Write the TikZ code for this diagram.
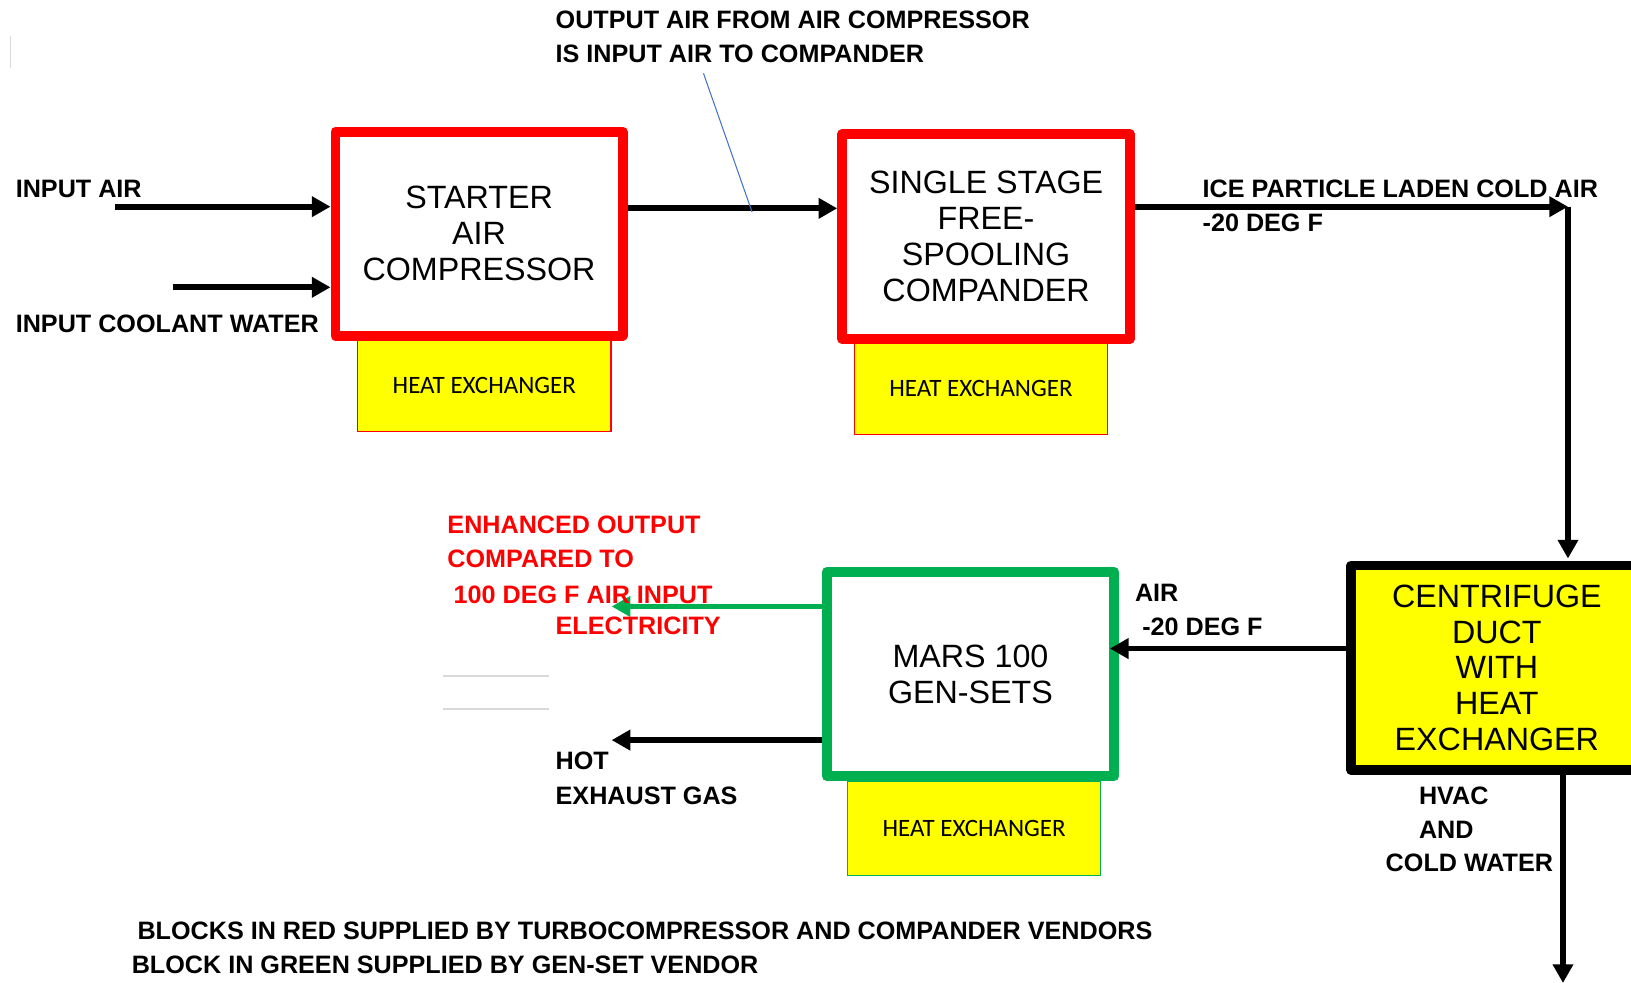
\documentclass[tikz,border=0pt]{standalone}
\usepackage{fontspec}
\setmainfont{Liberation Sans}
\newfontfamily\hxfont{Carlito}
\usetikzlibrary{arrows.meta}
\definecolor{bred}{HTML}{FF0000}
\definecolor{bgreen}{HTML}{00B050}
\definecolor{byellow}{HTML}{FFFF00}
\definecolor{bblue}{HTML}{4472C4}
\definecolor{lgray}{HTML}{D9D9D9}
\begin{document}
\begin{tikzpicture}[x=1pt,y=-1pt,
  arr/.style={line width=5.5pt,-{Triangle[length=18pt,width=19pt]}},
  bigbox/.style={draw,line width=9.5pt,line join=round,fill=white,inner sep=0pt,align=center,font=\fontsize{31}{34.5}\selectfont},
  hxbox/.style={draw,line width=1.2pt,fill=byellow,inner sep=0pt,font=\hxfont\fontsize{24}{28}\selectfont},
  lbl/.style={anchor=base west,inner sep=0pt,font=\bfseries\fontsize{24.2}{28}\selectfont},
  redlbl/.style={lbl,text=bred},
  gline/.style={draw=lgray,line width=2pt}
]
\useasboundingbox (0,0) rectangle (1568,945);
\clip (0,0) rectangle (1568,945);

% heat exchangers
\node[hxbox,draw=bred,minimum width=243.4pt,minimum height=88pt] (hx1) at (465.6,371) {HEAT EXCHANGER};
\node[hxbox,draw=bred,minimum width=243pt,minimum height=88.5pt] (hx2) at (943.1,373.7) {HEAT EXCHANGER};
\node[hxbox,draw=bgreen,minimum width=243pt,minimum height=91pt] (hx3) at (936.5,796.5) {HEAT EXCHANGER};

% main blocks
\node[bigbox,draw=bred,minimum width=276.1pt,minimum height=196.3pt] (sac) at (460.55,224.65) {STARTER\\AIR\\COMPRESSOR};
\node[bigbox,draw=bred,minimum width=276.7pt,minimum height=197pt] (comp) at (948,227.5) {SINGLE STAGE\\FREE-\\SPOOLING\\COMPANDER};
\node[bigbox,draw=bgreen,minimum width=276.5pt,minimum height=196.5pt] (mars) at (933,648) {MARS 100\\GEN-SETS};
\node[bigbox,draw=black,fill=byellow,minimum width=280pt,minimum height=196.7pt] (cen) at (1439,642) {CENTRIFUGE\\DUCT\\WITH\\HEAT\\EXCHANGER};

% coordinates
\coordinate (inair) at (110.6,198.7);
\coordinate (incool) at (166,276.2);
\coordinate (y1) at (0,200.3);
\coordinate (y2) at (0,198.7);
\coordinate (corner) at (1507.4,198.7);
\coordinate (y3) at (0,623.5);
\coordinate (elec) at (588,583);
\coordinate (exh) at (588,711.5);
\coordinate (hvacend) at (1502.6,945);
\coordinate (callA) at (676.3,70.5);
\coordinate (callB) at (723,203.8);

% connectors
\draw[arr] (inair) -- (inair -| sac.west);
\draw[arr] (incool) -- (incool -| sac.west);
\draw[arr] (sac.east |- y1) -- (comp.west |- y1);
\draw[arr] (comp.east |- y2) -- (corner);
\draw[arr] (corner) -- ([yshift=2pt]corner |- cen.north);
\draw[arr] (cen.west |- y3) -- ([xshift=-9pt]mars.east |- y3);
\draw[arr,draw=bgreen,fill=bgreen] (mars.west |- elec) -- (elec);
\draw[arr] (mars.west |- exh) -- (exh);
\draw[arr] (cen.south -| hvacend) -- (hvacend);
\draw[bblue,line width=1pt] (callA) -- (callB);

% light gray marks
\coordinate (g1a) at (426,650); \coordinate (g1b) at (528,650);
\coordinate (g2a) at (426,682); \coordinate (g2b) at (528,682);
\coordinate (g3a) at (10,35); \coordinate (g3b) at (10,65);
\draw[gline] (g1a) -- (g1b);
\draw[gline] (g2a) -- (g2b);
\draw[draw=lgray,line width=1pt] (g3a) -- (g3b);

% labels
\node[lbl] (t1) at (534,27) {OUTPUT AIR FROM AIR COMPRESSOR};
\node[lbl] (t2) at (534,60) {IS INPUT AIR TO COMPANDER};
\node[lbl] (t3) at (15,190) {INPUT AIR};
\node[lbl] (t4) at (15,320) {INPUT COOLANT WATER};
\node[lbl] (t5) at (1156,190) {ICE PARTICLE LADEN COLD AIR};
\node[lbl] (t6) at (1156,223) {-20 DEG F};
\node[redlbl] (r1) at (430,513) {ENHANCED OUTPUT};
\node[redlbl] (r2) at (430,546) {COMPARED TO};
\node[redlbl] (r3) at (436,580) {100 DEG F AIR INPUT};
\node[redlbl] (r4) at (534,610) {ELECTRICITY};
\node[lbl] (t7) at (534,740) {HOT};
\node[lbl] (t8) at (534,773) {EXHAUST GAS};
\node[lbl] (t9) at (1091,578) {AIR};
\node[lbl] (t10) at (1098,610.5) {-20 DEG F};
\node[lbl] (t11) at (1364,773) {HVAC};
\node[lbl] (t12) at (1364,806) {AND};
\node[lbl] (t13) at (1332,838) {COLD WATER};
\node[lbl] (t14) at (132,903.5) {BLOCKS IN RED SUPPLIED BY TURBOCOMPRESSOR AND COMPANDER VENDORS};
\node[lbl] (t15) at (126.5,936) {BLOCK IN GREEN SUPPLIED BY GEN-SET VENDOR};
\end{tikzpicture}
\end{document}
